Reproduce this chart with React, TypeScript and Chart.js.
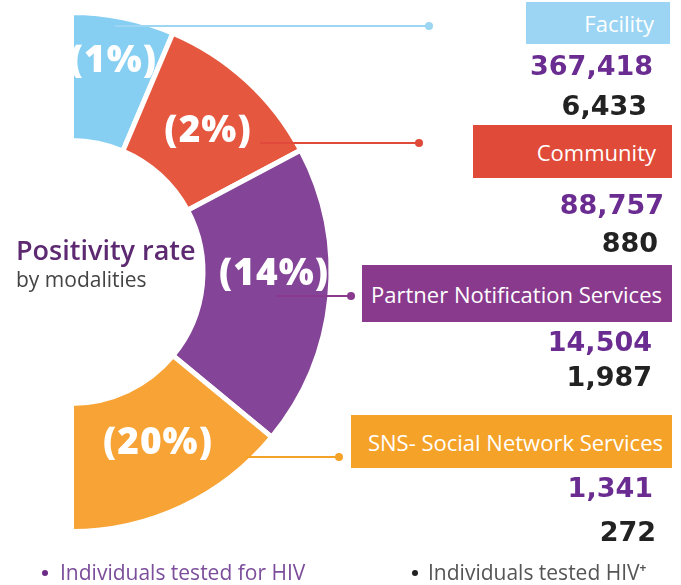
import React, { useEffect, useRef } from "react";
import { Chart, registerables } from "chart.js";

Chart.register(...registerables);

// ---- data ----
const modalities = ["Facility", "Community", "Partner Notification Services", "SNS- Social Network Services"];
const positivityLabels = ["(1%)", "(2%)", "(14%)", "(20%)"];
// share of the half ring each modality occupies (degrees)
const arcShare = [23, 39, 67.5, 50.5];
const testedForHiv = ["367,418", "88,757", "14,504", "1,341"];
const testedPositive = ["6,433", "880", "1,987", "272"];

// ---- styles ----
const segColors = ["#87CFF2", "#E5573F", "#844497", "#F7A335"];
const boxColors = ["#9CD5F4", "#E04A38", "#893A8D", "#F5A229"];
const lineColors = ["#9DD6F3", "#E04A3A", "#8A3A8E", "#F5A229"];
const PURPLE_NUM = "#6A2C91";
const DARK_NUM = "#222222";

// label placement inside each arc (fraction along angle / along ring thickness)
const LABEL_T = [0.49, 0.546, 0.43, 0.473];
const LABEL_R = [0.645, 0.5, 0.555, 0.48];

// connector lines: [x start, x end, y]
const connectors = [
  [115, 429, 26],
  [260, 419, 143],
  [275, 351, 296],
  [245, 339, 457],
];

const boxes = [
  { left: 526, top: 2, width: 144, height: 42, pr: 16 },
  { left: 473, top: 125, width: 199, height: 53, pr: 16 },
  { left: 362, top: 265, width: 310, height: 57, pr: 10 },
  { left: 351, top: 415, width: 321, height: 53, pr: 9 },
];
const numRows = [
  { right: 653, cy: 65 },
  { right: 664, cy: 204 },
  { right: 652, cy: 341 },
  { right: 653, cy: 487 },
];
const posRows = [
  { right: 647, cy: 105 },
  { right: 658, cy: 242 },
  { right: 652, cy: 376 },
  { right: 656, cy: 531 },
];

const segLabelPlugin = {
  id: "segLabels",
  afterDatasetsDraw(chart: any) {
    const ctx = chart.ctx as CanvasRenderingContext2D;
    ctx.save();
    // connectors
    connectors.forEach(([x1, x2, y], i) => {
      ctx.strokeStyle = lineColors[i];
      ctx.fillStyle = lineColors[i];
      ctx.lineWidth = 2.2;
      ctx.beginPath();
      ctx.moveTo(x1, y);
      ctx.lineTo(x2, y);
      ctx.stroke();
      ctx.beginPath();
      ctx.arc(x2, y, 4, 0, Math.PI * 2);
      ctx.fill();
    });
    // percentage labels
    const meta = chart.getDatasetMeta(0);
    const fs = 37;
    ctx.font = `800 ${fs}px "Open Sans"`;
    (ctx as any).letterSpacing = "1px";
    ctx.fillStyle = "#ffffff";
    ctx.textAlign = "center";
    ctx.textBaseline = "alphabetic";
    meta.data.forEach((arc: any, i: number) => {
      const p = arc.getProps(["x", "y", "startAngle", "endAngle", "innerRadius", "outerRadius"], true);
      const a = p.startAngle + (p.endAngle - p.startAngle) * LABEL_T[i];
      const r = p.innerRadius + (p.outerRadius - p.innerRadius) * LABEL_R[i];
      const cx = p.x + Math.cos(a) * r;
      const cy = p.y + Math.sin(a) * r;
      ctx.fillText(positivityLabels[i], cx, cy + 0.26 * fs);
    });
    ctx.restore();
  },
};

export default function App() {
  const canvasRef = useRef<HTMLCanvasElement | null>(null);

  useEffect(() => {
    if (!canvasRef.current) return;
    const chart = new Chart(canvasRef.current, {
      type: "doughnut",
      data: {
        labels: modalities,
        datasets: [
          {
            data: arcShare,
            backgroundColor: segColors,
            borderColor: "#ffffff",
            borderWidth: 5,
            borderJoinStyle: "miter",
            hoverOffset: 0,
          } as any,
        ],
      },
      options: {
        responsive: false,
        animation: false,
        devicePixelRatio: 1,
        rotation: 0,
        circumference: 180,
        radius: 259.5,
        cutout: "50.67%",
        events: [],
        layout: { padding: { left: 71.5, right: 350, top: 12.5, bottom: 53.5 } },
        plugins: { legend: { display: false }, tooltip: { enabled: false } },
      } as any,
      plugins: [segLabelPlugin],
    });
    return () => chart.destroy();
  }, []);

  const numFont = '"DejaVu Sans", sans-serif';
  const textFont = '"Open Sans", sans-serif';

  return (
    <div style={{ position: "absolute", left: 0, top: 0, width: 681, height: 585, background: "#fff", overflow: "hidden" }}>
      <canvas ref={canvasRef} width={681} height={585} style={{ position: "absolute", left: 0, top: 0, width: 681, height: 585 }} />

      <div style={{ position: "absolute", left: 16, top: 236, fontFamily: textFont, fontWeight: 600, fontSize: 27, lineHeight: "27px", color: "#5D2A72", whiteSpace: "nowrap" }}>
        Positivity rate
      </div>
      <div style={{ position: "absolute", left: 16, top: 269, fontFamily: textFont, fontWeight: 400, fontSize: 21, lineHeight: "21px", color: "#444", whiteSpace: "nowrap" }}>
        by modalities
      </div>

      {modalities.map((m, i) => (
        <div
          key={m}
          style={{
            position: "absolute",
            left: boxes[i].left,
            top: boxes[i].top,
            width: boxes[i].width,
            height: boxes[i].height,
            background: boxColors[i],
            display: "flex",
            alignItems: "center",
            justifyContent: "flex-end",
            paddingRight: boxes[i].pr,
            boxSizing: "border-box",
            fontFamily: textFont,
            fontSize: 22,
            color: "#fff",
            whiteSpace: "nowrap",
          }}
        >
          {m}
        </div>
      ))}

      {testedForHiv.map((v, i) => (
        <div
          key={"n" + i}
          style={{
            position: "absolute",
            right: 681 - numRows[i].right,
            top: numRows[i].cy - 13,
            fontFamily: numFont,
            fontWeight: 700,
            fontSize: 27,
            lineHeight: "27px",
            color: PURPLE_NUM,
            whiteSpace: "nowrap",
          }}
        >
          {v}
        </div>
      ))}
      {testedPositive.map((v, i) => (
        <div
          key={"p" + i}
          style={{
            position: "absolute",
            right: 681 - posRows[i].right,
            top: posRows[i].cy - 13,
            fontFamily: numFont,
            fontWeight: 700,
            fontSize: 27,
            lineHeight: "27px",
            color: DARK_NUM,
            whiteSpace: "nowrap",
          }}
        >
          {v}
        </div>
      ))}

      <div style={{ position: "absolute", left: 42, top: 570, width: 6, height: 6, borderRadius: 3, background: "#6B2A85" }} />
      <div style={{ position: "absolute", left: 60, top: 562, fontFamily: textFont, fontSize: 21, lineHeight: "21px", color: "#7B4D9B", whiteSpace: "nowrap" }}>
        Individuals tested for HIV
      </div>
      <div style={{ position: "absolute", left: 412, top: 570, width: 6, height: 6, borderRadius: 3, background: "#222" }} />
      <div style={{ position: "absolute", left: 428, top: 562, fontFamily: textFont, fontSize: 21, lineHeight: "21px", color: "#555", whiteSpace: "nowrap" }}>
        Individuals tested HIV<sup style={{ fontSize: 12, verticalAlign: "top", lineHeight: "12px", fontWeight: 700 }}>+</sup>
      </div>
    </div>
  );
}
